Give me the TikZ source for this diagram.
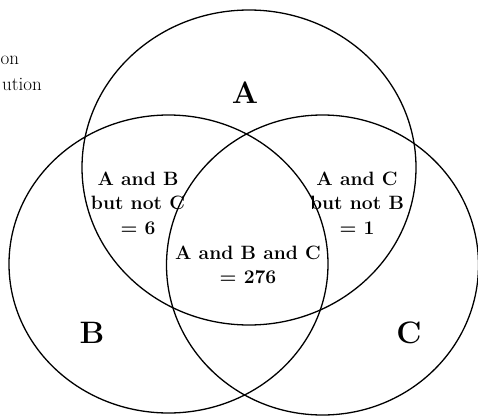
\documentclass[tikz,border=0pt]{standalone}
\usepackage{fontspec}
\begin{document}
\begin{tikzpicture}[x=1pt,y=-1pt,
  setline/.style={line width=1.3pt},
  region/.style={align=center,font=\fontsize{19.3}{24.5}\selectfont\bfseries,inner sep=0pt},
  setname/.style={font=\fontsize{31}{32}\selectfont\bfseries,inner sep=0pt,anchor=base},
  cut/.style={font=\fontsize{19}{20}\selectfont,inner sep=0pt}]
\useasboundingbox (0,0) rectangle (478,417);
\draw[setline] (249,167.5) ellipse [x radius=167, y radius=157.5];
\draw[setline] (168.5,264) ellipse [x radius=159.5, y radius=149];
\draw[setline] (322.5,265) ellipse [x radius=156, y radius=150];
\node[cut,anchor=base west] (t1) at (0.5,65) {on};
\node[cut,anchor=base east] (t2) at (42,90) {ution};
\node[setname] (la) at (245,103) {A};
\node[setname] (lb) at (92,343) {B};
\node[setname] (lc) at (409,343) {C};
\node[region] (ab) at (138,203) {A and B\\but not C\\= 6};
\node[region] (ac) at (357,203) {A and C\\but not B\\= 1};
\node[region] (abc) at (248,265) {A and B and C\\= 276};
\end{tikzpicture}
\end{document}
